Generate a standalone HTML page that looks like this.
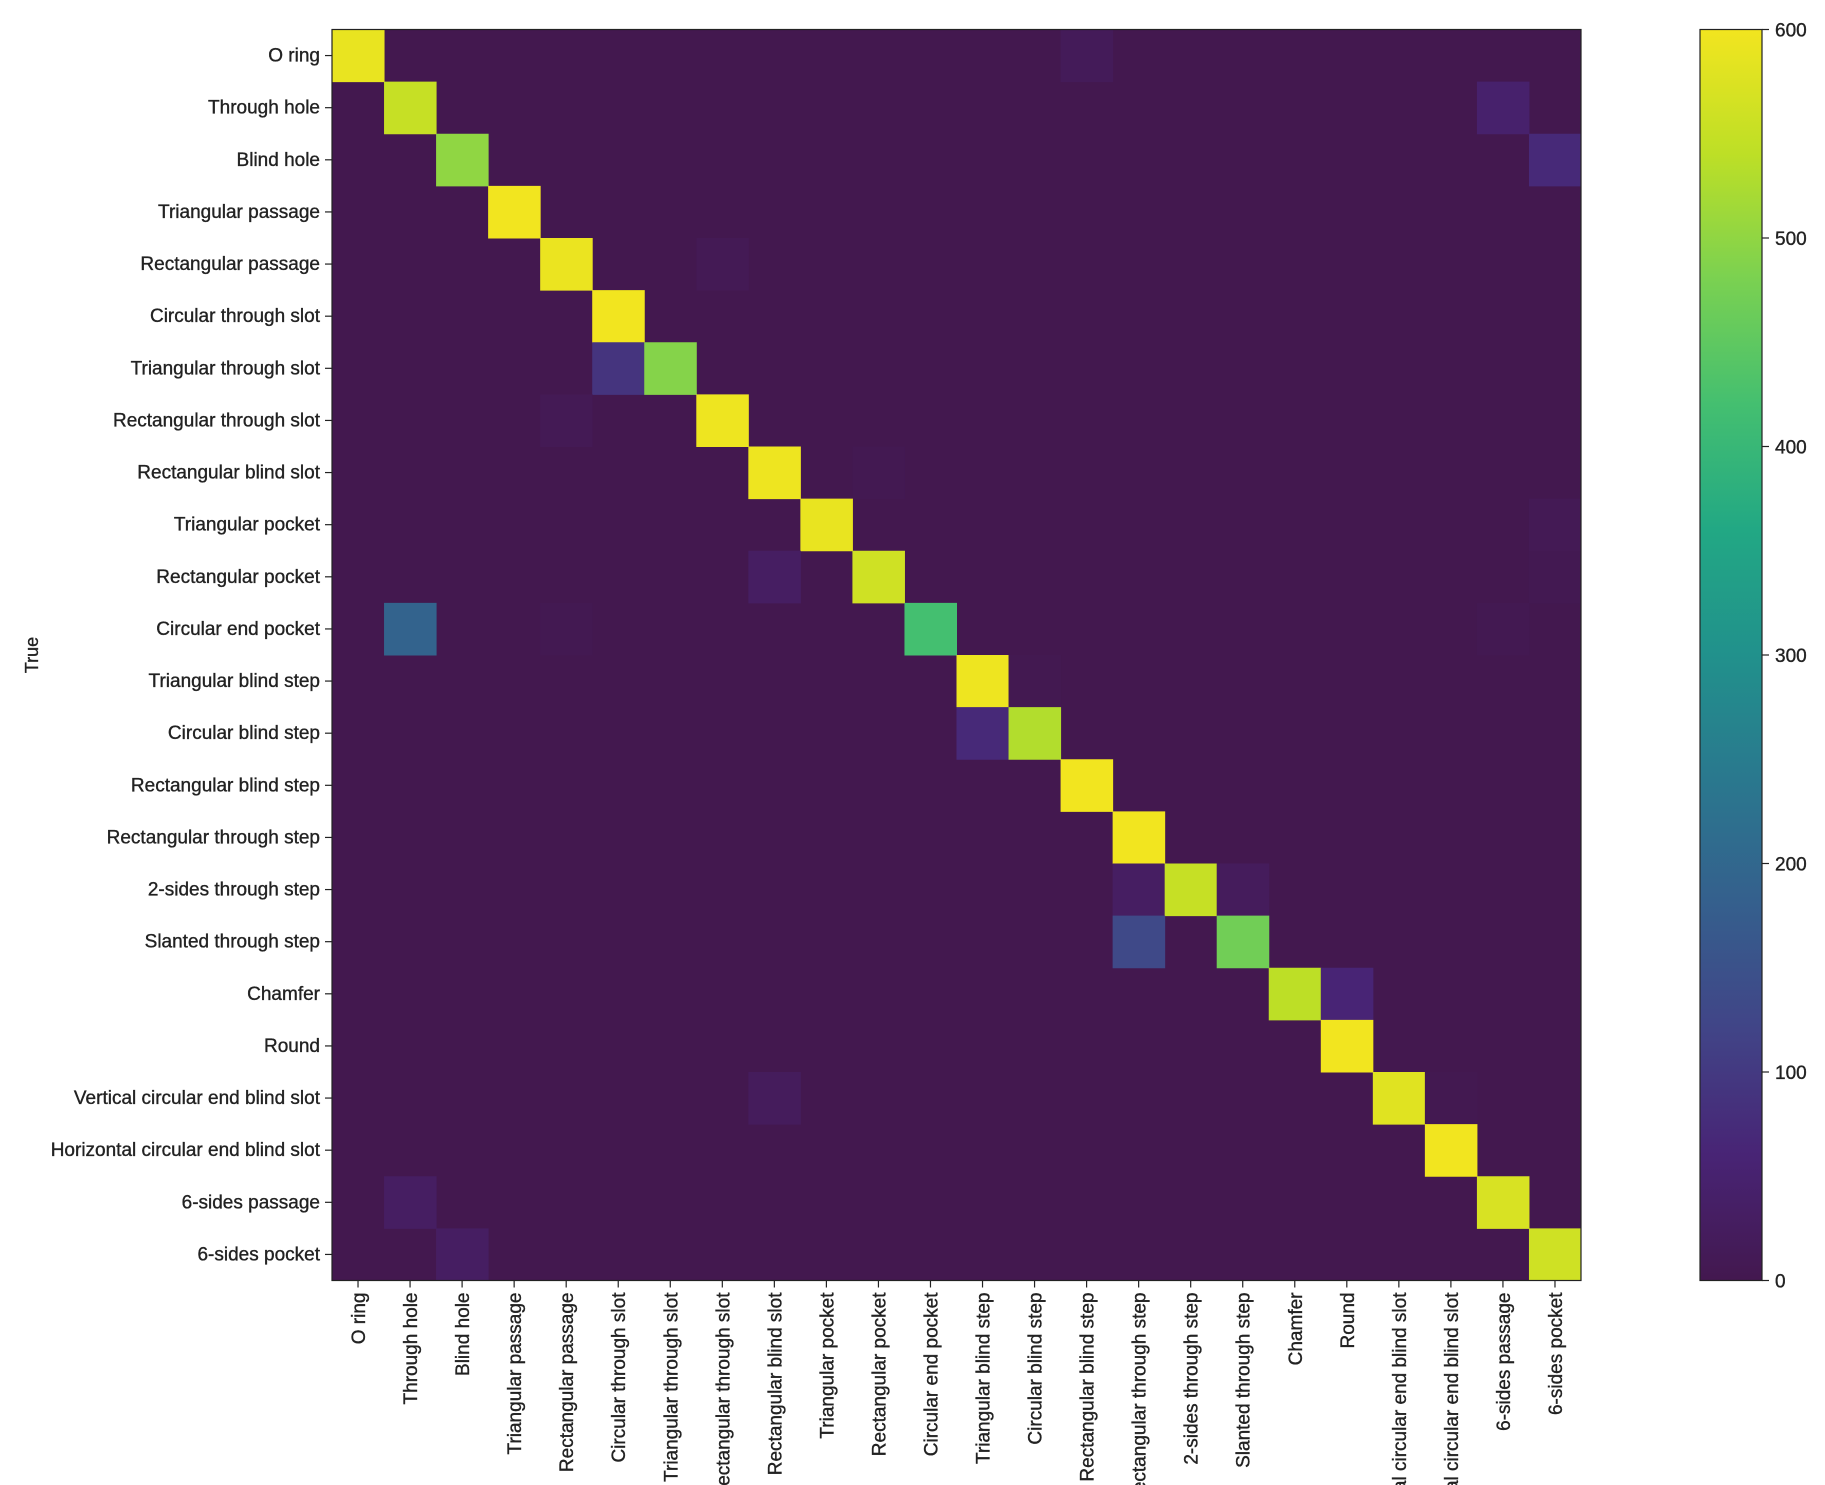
<!DOCTYPE html>
<html><head><meta charset="utf-8"><style>
html,body{margin:0;padding:0;background:#fff;width:1825px;height:1485px;overflow:hidden;}
svg{display:block;overflow:hidden;font-family:"Liberation Sans","DejaVu Sans",sans-serif;}
text{fill:#222;stroke:#222;stroke-width:0.35;}
</style></head><body>
<svg id="chart" width="1825" height="1485" viewBox="0 0 1825 1485" xmlns="http://www.w3.org/2000/svg">
<defs>
<linearGradient id="vir" x1="0" y1="1" x2="0" y2="0">
<stop offset="0" stop-color="#43184f"/><stop offset="0.1" stop-color="#482475"/><stop offset="0.2" stop-color="#414487"/><stop offset="0.3" stop-color="#355f8d"/><stop offset="0.4" stop-color="#2a788e"/><stop offset="0.5" stop-color="#21918c"/><stop offset="0.6" stop-color="#22a884"/><stop offset="0.7" stop-color="#44bf70"/><stop offset="0.8" stop-color="#7ad151"/><stop offset="0.9" stop-color="#bddf26"/><stop offset="1" stop-color="#f2e51f"/>
</linearGradient>
</defs>
<g id="cells"></g>
<g id="yaxis"></g>
<g id="xaxis"></g>
<text x="38" y="655" font-size="18" text-anchor="middle" transform="rotate(-90 38 655)">True</text>
<rect x="332" y="29.5" width="1249" height="1251" fill="none" stroke="#222" stroke-width="1.2"/>
<rect x="1700" y="29.5" width="62" height="1251" fill="url(#vir)" stroke="#222" stroke-width="1.2"/>
<g id="cbar"></g>
</svg>
<script>
const labels = ["O ring","Through hole","Blind hole","Triangular passage","Rectangular passage","Circular through slot","Triangular through slot","Rectangular through slot","Rectangular blind slot","Triangular pocket","Rectangular pocket","Circular end pocket","Triangular blind step","Circular blind step","Rectangular blind step","Rectangular through step","2-sides through step","Slanted through step","Chamfer","Round","Vertical circular end blind slot","Horizontal circular end blind slot","6-sides passage","6-sides pocket"];
// entries: [row, col, value]
const entries = [
[0,0,590],[0,14,15],
[1,1,550],[1,22,45],
[2,2,500],[2,23,70],
[3,3,600],
[4,4,592],[4,7,10],
[5,5,600],
[6,5,90],[6,6,490],
[7,4,10],[7,7,595],
[8,8,595],[8,10,4],
[9,9,590],[9,23,10],
[10,8,30],[10,10,560],[10,23,4],
[11,1,190],[11,4,4],[11,11,420],[11,22,4],
[12,12,595],[12,13,3],
[13,12,70],[13,13,530],
[14,14,600],
[15,15,600],
[16,15,30],[16,16,550],[16,17,20],
[17,15,130],[17,17,470],
[18,18,540],[18,19,60],
[19,19,600],
[20,8,20],[20,20,580],[20,21,3],
[21,21,600],
[22,1,30],[22,22,570],
[23,2,30],[23,23,560]
];
const cbTicks = [0,100,200,300,400,500,600];
const vmax = 600;

const NS="http://www.w3.org/2000/svg";
const X0=332, Y0=29.5, W=1249, H=1251, N=labels.length;
const cw=W/N, ch=H/N;
const xPos=c=>X0+c*cw, yPos=r=>Y0+r*ch;
const cbY=v=>Y0+H-v/vmax*H;
const vir=["#43184f","#482475","#414487","#355f8d","#2a788e","#21918c","#22a884","#44bf70","#7ad151","#bddf26","#f2e51f"];
function hex(h){return [1,3,5].map(i=>parseInt(h.substr(i,2),16));}
function color(v){let t=Math.max(0,Math.min(1,v/vmax))*10;let i=Math.min(9,Math.floor(t));let f=t-i;let a=hex(vir[i]),b=hex(vir[i+1]);return "rgb("+a.map((x,k)=>Math.round(x+(b[k]-x)*f)).join(",")+")";}
function mk(tag,attrs,parent){const e=document.createElementNS(NS,tag);for(const k in attrs)e.setAttribute(k,attrs[k]);parent.appendChild(e);return e;}
const cells=document.getElementById('cells');
const bg=mk('rect',{x:X0,y:Y0,width:W,height:H,fill:color(0)},cells);


entries.forEach(([r,c,v])=>{
  const e=mk('rect',{x:xPos(c),y:yPos(r),width:cw+0.5,height:ch+0.5,fill:color(v)},cells);
  
  
});
const ya=document.getElementById('yaxis'), xa=document.getElementById('xaxis');
labels.forEach((l,i)=>{
  const y=yPos(i)+ch/2;
  const t=mk('line',{x1:X0-7,x2:X0,y1:y,y2:y,stroke:'#222','stroke-width':1.2},ya);
  
  
  const tx=mk('text',{x:X0-12,y:y+6,'font-size':19,'text-anchor':'end'},ya);
  tx.textContent=l;
  
  
  const x=xPos(i)+cw/2;
  const t2=mk('line',{x1:x,x2:x,y1:Y0+H,y2:Y0+H+7,stroke:'#222','stroke-width':1.2},xa);
  
  
  const yy=Y0+H+12;
  const tx2=mk('text',{x:x+7,y:yy,'font-size':19,'text-anchor':'end',transform:'rotate(-90 '+(x+7)+' '+yy+')'},xa);
  tx2.textContent=l;
  
  
});
const cb=document.getElementById('cbar');
cbTicks.forEach(v=>{
  const y=cbY(v);
  const t=mk('line',{x1:1762,x2:1769,y1:y,y2:y,stroke:'#222','stroke-width':1.2},cb);
  
  
  const tx=mk('text',{x:1775,y:y+7,'font-size':19},cb);
  tx.textContent=v;
  
  
});
</script>
</body></html>
